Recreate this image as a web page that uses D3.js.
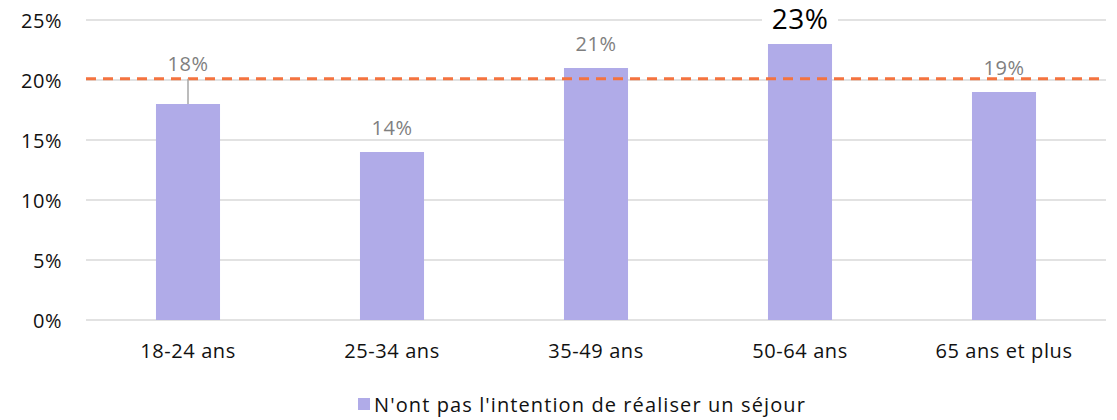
<!DOCTYPE html>
<html><head><meta charset="utf-8">
<script src="https://cdn.jsdelivr.net/npm/d3@7"></script>
<style>body{margin:0;background:#fff}svg{display:block}text{font-family:"Open Sans",Lato,sans-serif}</style>
</head><body><svg id="c" width="1117" height="420"></svg>
<script>
const categories = ["18-24 ans","25-34 ans","35-49 ans","50-64 ans","65 ans et plus"];
const values = [18,14,21,23,19];
const yTicks = [0,5,10,15,20,25];
const averageValue = 20.1;
const seriesName = "N'ont pas l'intention de réaliser un séjour";
const highlightIndex = 3;

const FONT = "'Open Sans',Lato,sans-serif";
const svg = d3.select("#c");
const mLeft = 86, mRight = 1106, mTop = 20, mBottom = 320;
const x = d3.scaleBand().domain(categories).range([mLeft,mRight]).paddingInner(0.686).paddingOuter(0.343);
const y = d3.scaleLinear().domain([0,25]).range([mBottom,mTop]);

// gridlines
svg.append("g").selectAll("line").data(yTicks).join("line")
  .attr("x1",mLeft).attr("x2",mRight)
  .attr("y1",d=>y(d)).attr("y2",d=>y(d))
  .attr("stroke","#d9d9d9").attr("stroke-width",1.5);

// y axis labels
const yAxis = d3.axisLeft(y).tickValues(yTicks).tickFormat(d=>d+"%").tickSize(0).tickPadding(0);
const ga = svg.append("g").attr("transform",`translate(62,0)`).call(yAxis);
ga.select(".domain").remove();
ga.selectAll("text").attr("font-size",20).attr("fill","#111").attr("font-family",FONT).attr("dy","0.36em").attr("letter-spacing","0.5px");

// bars
svg.append("g").selectAll("rect").data(values).join("rect")
  .attr("x",(d,i)=>x(categories[i])).attr("width",x.bandwidth())
  .attr("y",d=>y(d)).attr("height",d=>y(0)-y(d))
  .attr("fill","#b0abe8");

// x axis labels
const xAxis = d3.axisBottom(x).tickSize(0).tickPadding(0);
const gx = svg.append("g").attr("transform",`translate(0,${mBottom+24})`).call(xAxis);
gx.select(".domain").remove();
gx.selectAll("text").attr("font-size",20).attr("fill","#111").attr("font-family",FONT).attr("letter-spacing","0.6px");

// average dashed line
svg.append("line").attr("x1",mLeft).attr("x2",mRight)
  .attr("y1",y(averageValue)).attr("y2",y(averageValue))
  .attr("stroke","#f4733f").attr("stroke-width",3).attr("stroke-dasharray","10,7");

// leader line for first label
svg.append("line")
  .attr("x1",x(categories[0])+x.bandwidth()/2).attr("x2",x(categories[0])+x.bandwidth()/2)
  .attr("y1",y(averageValue)).attr("y2",y(values[0]))
  .attr("stroke","#a6a6a6").attr("stroke-width",1.5);

// value labels
values.forEach((v,i)=>{
  const cx = x(categories[i])+x.bandwidth()/2;
  const hl = i===highlightIndex;
  const ly = hl ? y(v)-15 : (i===0 ? y(averageValue)-8 : (i===4 ? y(averageValue)-4 : y(v)-17));
  if(hl){
    svg.append("rect").attr("x",cx-38).attr("y",y(25)-6).attr("width",76).attr("height",12).attr("fill","#fff");
  }
  svg.append("text").attr("x",cx).attr("y",ly).attr("text-anchor","middle")
    .attr("font-size",hl?28:20).attr("fill",hl?"#000":"#7f7f7f").attr("letter-spacing","0.5px").text(v+"%");
});

// legend
const lg = svg.append("g").attr("transform","translate(358,398)");
lg.append("rect").attr("width",12).attr("height",12).attr("fill","#b0abe8");
lg.append("text").attr("x",16).attr("y",14).attr("font-size",20).attr("fill","#111").attr("letter-spacing","1.1px").text(seriesName);
</script></body></html>
